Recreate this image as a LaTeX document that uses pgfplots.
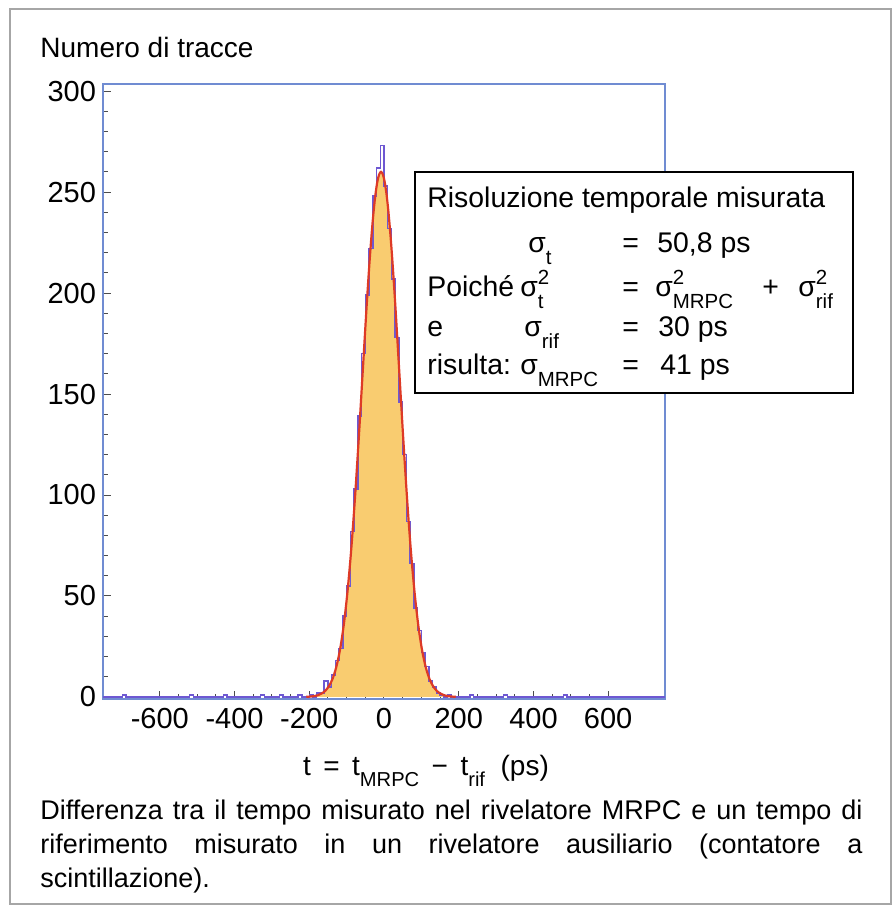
\documentclass[border=0pt]{standalone}
\usepackage{fontspec}
\setmainfont{Liberation Sans}
\usepackage{graphicx}
\usepackage{pgfplots}
\pgfplotsset{compat=1.18}

\definecolor{axisblue}{RGB}{112,140,210}
\definecolor{histline}{RGB}{110,88,210}
\definecolor{fitfill}{RGB}{249,204,112}
\definecolor{fitred}{RGB}{222,58,38}

% lowered / raised small text for the sigma labels
\newcommand\lo[1]{\raisebox{-0.75ex}{\scalebox{0.72}{#1}}}
\newcommand\hi[1]{\raisebox{0.85ex}{\scalebox{0.72}{#1}}}

\begin{document}
\begin{tikzpicture}
\useasboundingbox (0,0) rectangle (446.5pt,453.5pt);
\draw[gray!70, line width=0.7pt] (5pt,1.5pt) rectangle (445.5pt,449pt);

\begin{axis}[
	at={(51.5pt,104pt)},
	anchor=south west,
	scale only axis,
	width=281pt,
	height=307.5pt,
	xmin=-752, xmax=752,
	ymin=-1, ymax=303.5,
	axis line style={draw=axisblue, line width=0.8pt},
	xtick={-600,-400,...,600},
	xticklabels={-600,-400,-200,0,200,400,600},
	ytick={0,50,...,300},
	yticklabels={0,50,100,150,200,250,300},
	minor x tick num=3,
	minor y tick num=4,
	tick pos=left,
	tick align=inside,
	major tick length=4pt,
	minor tick length=2.5pt,
	tick style={black!70, line width=0.5pt},
	tick label style={font=\fontsize{14.5}{14.5}\selectfont},
	xticklabel style={yshift=-1pt}
	]
% area under the fit
\addplot[draw=none, fill=fitfill] coordinates {
(-208,0.1) (-198,0.2) (-188,0.4) (-178,0.8) (-168,1.6) (-158,2.9)
(-148,5.2) (-138,8.8) (-128,14.6) (-118,23.1) (-108,35.2) (-98,51.5)
(-88,72.3) (-78,97.6) (-68,126.6) (-58,157.7) (-48,188.8) (-43,203.5)
(-38,217.2) (-33,229.4) (-28,240.0) (-23,248.6) (-18,254.9) (-13,258.7)
(-8,260.0) (-3,258.7) (2,254.9) (7,248.6) (12,240.0) (17,229.4)
(22,217.2) (27,203.5) (32,188.8) (42,157.7) (52,126.6) (62,97.6)
(72,72.3) (82,51.5) (92,35.2) (102,23.1) (112,14.6) (122,8.8)
(132,5.2) (142,2.9) (152,1.6) (162,0.8) (172,0.4) (182,0.2) (192,0.1)
} \closedcycle;

% histogram
\addplot[const plot, histline, line width=0.75pt] coordinates {
(-752,0) (-700,1) (-690,0) (-520,1) (-510,0) (-430,1) (-420,0)
(-330,1) (-320,0) (-280,1) (-270,0) (-230,1) (-220,0) (-200,1)
(-190,0) (-180,2) (-170,2) (-160,8) (-150,5) (-140,11) (-130,18)
(-120,24) (-110,40) (-100,55) (-90,82) (-80,103) (-70,139) (-60,170)
(-50,199) (-40,222) (-30,248) (-20,262) (-10,273) (0,253) (10,232)
(20,207) (30,178) (40,146) (50,120) (60,87) (70,66) (80,44) (90,33)
(100,22) (110,15) (120,8) (130,5) (140,2) (150,1) (160,0) (170,1)
(180,0) (230,1) (240,0) (320,1) (330,0) (480,1) (490,0) (752,0)
};

% gaussian fit
\addplot[fitred, line width=1.1pt, smooth] coordinates {
(-208,0.1) (-198,0.2) (-188,0.4) (-178,0.8) (-168,1.6) (-158,2.9)
(-148,5.2) (-138,8.8) (-128,14.6) (-118,23.1) (-108,35.2) (-98,51.5)
(-88,72.3) (-78,97.6) (-68,126.6) (-58,157.7) (-48,188.8) (-43,203.5)
(-38,217.2) (-33,229.4) (-28,240.0) (-23,248.6) (-18,254.9) (-13,258.7)
(-8,260.0) (-3,258.7) (2,254.9) (7,248.6) (12,240.0) (17,229.4)
(22,217.2) (27,203.5) (32,188.8) (42,157.7) (52,126.6) (62,97.6)
(72,72.3) (82,51.5) (92,35.2) (102,23.1) (112,14.6) (122,8.8)
(132,5.2) (142,2.9) (152,1.6) (162,0.8) (172,0.4) (182,0.2) (192,0.1)
};
\end{axis}

% y axis title
\node[anchor=base west, inner sep=0pt, font=\fontsize{14}{14}\selectfont]
  at (20pt,424.5pt) {Numero di tracce};

% x axis title
\node[anchor=base, inner sep=0pt, font=\fontsize{14}{14}\selectfont]
  at (213pt,66pt) {t\,\ =\,\ t\lo{MRPC}\,\ −\,\ t\lo{rif}\ \ (ps)};

% caption
\node[anchor=north west, inner sep=0pt, text width=411pt, align=justify,
      font=\fontsize{13.5}{17}\selectfont] at (20pt,53.5pt)
  {\tolerance=10000\hbadness=10000 Differenza tra il tempo misurato nel rivelatore MRPC e un tempo di\linebreak
   riferimento misurato in un rivelatore ausiliario (contatore a\linebreak
   scintillazione).};

% result box
\draw[black, line width=1pt, fill=white] (207.5pt,257pt) rectangle (426.5pt,367.5pt);
\begin{scope}[every node/.style={anchor=base west, inner sep=0pt,
                                  font=\fontsize{14.2}{14.2}\selectfont}]
\node at (213.5pt,349.5pt) {Risoluzione temporale misurata};
\node at (264pt,327pt) {σ\lo{t}};
\node at (311pt,327pt) {=};
\node at (328.5pt,327pt) {50,8 ps};
\node at (213.5pt,305pt) {Poiché};
\node at (260pt,305pt) {σ\rlap{\hi{2}}\lo{t}};
\node at (311pt,305pt) {=};
\node at (327.5pt,305pt) {σ\rlap{\hi{2}}\lo{MRPC}};
\node at (381pt,305pt) {+};
\node at (399pt,305pt) {σ\rlap{\hi{2}}\lo{rif}};
\node at (213.5pt,285pt) {e};
\node at (262pt,285pt) {σ\lo{rif}};
\node at (311pt,285pt) {=};
\node at (329pt,285pt) {30 ps};
\node at (213.5pt,266pt) {risulta:};
\node at (260pt,266pt) {σ\lo{MRPC}};
\node at (311pt,266pt) {=};
\node at (330pt,266pt) {41 ps};
\end{scope}
\end{tikzpicture}
\end{document}
